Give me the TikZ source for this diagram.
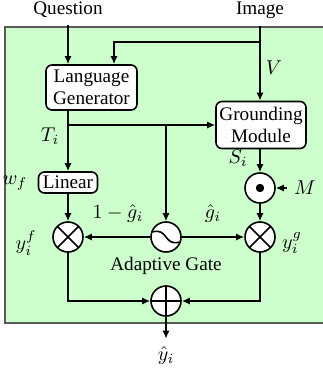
\documentclass[tikz,border=0pt]{standalone}
\usepackage{fontspec}
\setmainfont{Liberation Serif}
\usetikzlibrary{arrows.meta}
\definecolor{gatebg}{HTML}{CCFFCC}
\tikzset{
  blk/.style={draw, fill=white, rounded corners=3pt, align=center, inner sep=1pt},
  op/.style={circle, draw, fill=white, minimum size=15pt, inner sep=0pt},
  mult/.style={op, path picture={
      \draw (path picture bounding box.north west) -- (path picture bounding box.south east)
            (path picture bounding box.north east) -- (path picture bounding box.south west);}},
  plus/.style={op, path picture={
      \draw (path picture bounding box.north) -- (path picture bounding box.south)
            (path picture bounding box.west) -- (path picture bounding box.east);}},
  had/.style={op, path picture={\fill[black] (path picture bounding box.center) circle (2.1pt);}},
  sig/.style={op, path picture={
      \draw ([shift={(-6.5pt,2.6pt)}]path picture bounding box.center)
        .. controls ([shift={(1pt,4.5pt)}]path picture bounding box.center)
        and ([shift={(-1pt,-4.5pt)}]path picture bounding box.center)
        .. ([shift={(6.5pt,-2.6pt)}]path picture bounding box.center);}},
}
\begin{document}
\begin{tikzpicture}[x=0.5pt, y=-0.5pt, thick, font=\fontsize{9.6}{11}\selectfont,
    >={Latex[length=4pt,width=3.6pt]}]
  \useasboundingbox (0,0) rectangle (322,369);
  \draw[fill=gatebg, draw=black!65] (5,27) rectangle (324,323);

  % inputs
  \node (q) at (68,10) {Question};
  \node (img) at (260,10) {Image};

  % blocks
  \node[blk, minimum width=45.5pt, minimum height=22.5pt] (lg) at (91.5,87.5) {Language\\Generator};
  \node[blk, minimum width=45pt, minimum height=23.5pt] (gm) at (261,125) {Grounding\\Module};
  \node[blk, minimum width=29.5pt, minimum height=10.5pt] (lin) at (68,182.5) {Linear};

  % operators
  \node[had] (od) at (260,188) {};
  \node[mult] (mxl) at (68,237) {};
  \node[sig] (gate) at (166,237) {};
  \node[mult] (mxr) at (260,237) {};
  \node[plus] (sum) at (166,301) {};
  \node (m) at (305,188) {$M$};
  \node (out) at (166,355) {$\hat{y}_i$};

  % labels
  \node at (274,68) {$V$};
  \node at (50,136) {$T_i$};
  \node at (238,158) {$S_i$};
  \node at (15,183) {$w_f$};
  \node[inner sep=1pt] at (118,213) {$1-\hat{g}_i$};
  \node[inner sep=1pt] at (213,213) {$\hat{g}_i$};
  \node at (26,243) {$y_i^f$};
  \node at (292,243) {$y_i^g$};
  \node at (166,266) {Adaptive Gate};

  % junctions
  \coordinate (vj) at (260,42);
  \coordinate (tj) at (68,125);
  \coordinate (gj) at (166,125);

  \draw[->] (q) -- (q |- lg.north);
  \draw[->] (img) -- (img |- gm.north);
  \draw[->] (vj) -| ([xshift=11.25pt]lg.north);
  \draw[->] (lg.south -| q) -- (lin.north);
  \draw[->] (tj) -- (gm.west);
  \draw[->] (gj) -- (gate.north);
  \draw[->] (gm.south -| od) -- (od.north);
  \draw[->] (m) -- (od.east);
  \draw[->] (od) -- (mxr);
  \draw[->] (lin) -- (mxl);
  \draw[->] (gate) -- (mxl);
  \draw[->] (gate) -- (mxr);
  \draw[->] (mxl) |- (sum);
  \draw[->] (mxr) |- (sum);
  \draw[->] (sum) -- (out);
\end{tikzpicture}
\end{document}
